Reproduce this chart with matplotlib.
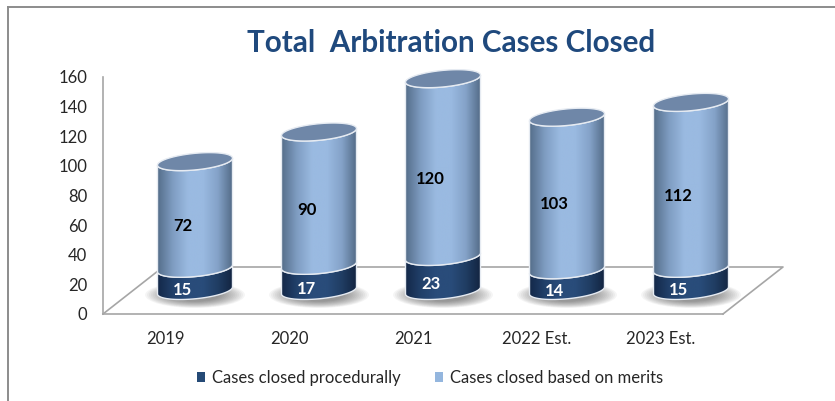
"""Total arbitration cases closed, stacked cylinder chart."""

import numpy as np
import matplotlib
matplotlib.use('Agg')
import matplotlib.pyplot as plt
from matplotlib.colors import LinearSegmentedColormap
from matplotlib.patches import Ellipse, Patch, PathPatch
from matplotlib.path import Path

years = ['2019', '2020', '2021', '2022 Est.', '2023 Est.']
procedural = [15, 17, 23, 14, 15]
merits = [72, 90, 120, 103, 112]
yticks = [0, 20, 40, 60, 80, 100, 120, 140, 160]

plt.rcParams['font.family'] = ['Lato', 'DejaVu Sans']

W, H = 835, 401
X0, X1 = 103, 723      # front floor edge, pixels
Y0, Y160 = 314, 77     # value axis, pixels

px_x = 5 / (X1 - X0)       # categories per pixel
px_y = 160 / (Y0 - Y160)   # value units per pixel

# cylinder and floor geometry, in data units
DEPTH_X = 60 * px_x
DEPTH_Y = 47 * px_y
A = 37.5 * px_x
B = 8.3 * px_y
SHEAR = 3.5 * px_y
LABEL_DX = -12.5 * px_x
LABEL_DY = -11 * px_y

light_cm = LinearSegmentedColormap.from_list(
    'light', ['#566f8c', '#7f9dc2', '#9abae1', '#9abae1', '#84a2c8', '#526a86'])
dark_cm = LinearSegmentedColormap.from_list(
    'dark', ['#14294a', '#21406a', '#294c7a', '#294c7a', '#203d63', '#122440'])


def ring(cx, cy, t):
    return cx + A * np.cos(t), cy + B * np.sin(t) + SHEAR * np.cos(t)


def draw_section(ax, cx, y_lo, y_hi, cmap, zorder):
    t = np.linspace(np.pi, 2 * np.pi, 60)
    x_lo, y_low = ring(cx, y_lo, t)
    x_hi, y_high = ring(cx, y_hi, t[::-1])
    verts = np.column_stack([np.r_[x_lo, x_hi], np.r_[y_low, y_high]])
    verts = np.vstack([verts, verts[0]])
    path = Path(verts, closed=True)
    clip = PathPatch(path, transform=ax.transData, fc='none', ec='none', clip_on=False)
    ax.add_patch(clip)
    grad = np.linspace(0, 1, 256).reshape(1, -1)
    im = ax.imshow(grad, cmap=cmap, aspect='auto', zorder=zorder,
                   extent=[cx - A, cx + A, y_lo - 15, y_hi + 15])
    im.set_clip_box(fig.bbox)
    im.set_clip_path(clip)
    ax.add_patch(PathPatch(path, fc='none', ec='#e6ebf2', lw=1.0, zorder=zorder + 0.1,
                           clip_on=False))


fig = plt.figure(figsize=(W / 100, H / 100), dpi=100)
ax = fig.add_axes([X0 / W, 1 - Y0 / H, (X1 - X0) / W, (Y0 - Y160) / H])

x = np.arange(len(years))
cyl_x = x + DEPTH_X / 2
cyl_y = DEPTH_Y / 2

# floor
grey = '#a6a6a6'
ax.plot([-0.5, -0.5 + DEPTH_X, 4.5 + DEPTH_X, 4.5],
        [0, DEPTH_Y, DEPTH_Y, 0], color=grey, lw=1.2, clip_on=False, zorder=1)

# shadows under the cylinders
for cx in cyl_x:
    for f in np.linspace(1, 0.5, 14):
        ax.add_patch(Ellipse((cx, cyl_y - 3), 2 * A * 1.33 * f, 2 * 13 * px_y * f,
                             fc='#404040', ec='none', alpha=0.05, zorder=2, clip_on=False))

for i, cx in enumerate(cyl_x):
    mid = cyl_y + procedural[i]
    top = mid + merits[i]
    draw_section(ax, cx, cyl_y, mid, dark_cm, 3)
    draw_section(ax, cx, mid, top, light_cm, 4)
    # cylinder lid
    t = np.linspace(0, 2 * np.pi, 120)
    lx, ly = ring(cx, top, t)
    ax.fill(lx, ly, fc='#6f87a8', ec='#e6ebf2', lw=1.0, zorder=5, clip_on=False)
    ax.text(cx + LABEL_DX, cyl_y + procedural[i] / 2 + LABEL_DY, str(procedural[i]),
            color='white', ha='center', va='center', fontsize=12, fontweight='bold', zorder=6)
    ax.text(cx + LABEL_DX, mid + merits[i] / 2 + LABEL_DY, str(merits[i]),
            color='black', ha='center', va='center', fontsize=12, fontweight='bold', zorder=6)

ax.set_xlim(-0.5, 4.5)
ax.set_ylim(0, 160)
ax.set_xticks(x, years)
ax.set_yticks(yticks)
ax.tick_params(length=0, labelsize=12, labelcolor='#262626')
ax.tick_params(axis='x', pad=12)
ax.tick_params(axis='y', pad=11.5)
ax.patch.set_alpha(0)
for side in ['top', 'right']:
    ax.spines[side].set_visible(False)
for side in ['left', 'bottom']:
    ax.spines[side].set_color(grey)
    ax.spines[side].set_linewidth(1.2)

fig.text(451 / W, 1 - 43 / H, 'Total  Arbitration Cases Closed', color='#1f497d',
         fontsize=21.3, fontweight='bold', ha='center', va='center')

handles = [Patch(fc='#254a76', label='Cases closed procedurally'),
           Patch(fc='#94b6de', label='Cases closed based on merits')]
fig.legend(handles=handles, ncol=2, frameon=False, fontsize=12,
           loc='center', bbox_to_anchor=(430 / W, 1 - 378 / H),
           handlelength=0.5, handleheight=0.5, handletextpad=0.4, columnspacing=2.05,
           labelcolor='#262626')

# outer frame of the screenshot
frame = '#8c8c8c'
fig.add_artist(plt.Line2D([8 / W, 8 / W], [0, 1 - 7 / H], color=frame, lw=1.4))
fig.add_artist(plt.Line2D([8 / W, 1], [1 - 7 / H, 1 - 7 / H], color=frame, lw=1.4))

fig.savefig('out.png', dpi=100)
